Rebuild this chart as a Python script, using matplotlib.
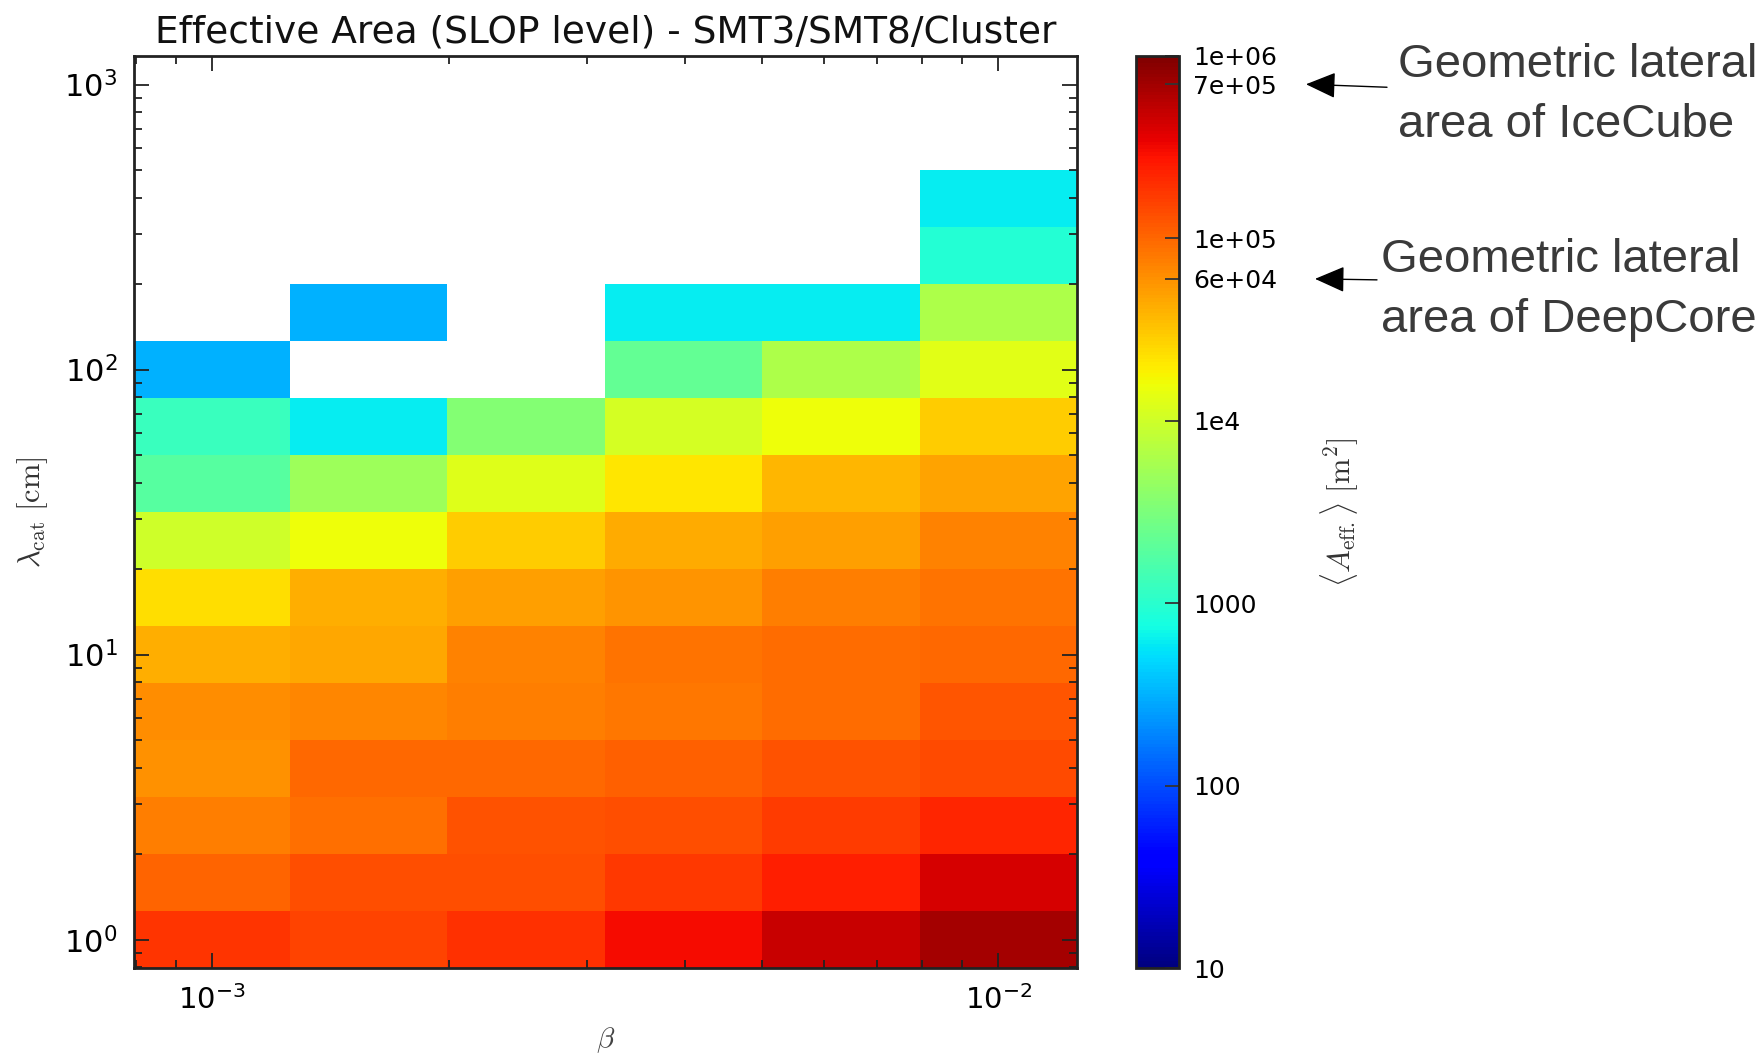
import numpy as np
import matplotlib
matplotlib.use("Agg")
import matplotlib.pyplot as plt
from matplotlib.colors import LogNorm

# ---------------- data ----------------
beta = [0.001, 0.00158, 0.00251, 0.00398, 0.00631, 0.01]
lam = [1, 1.58, 2.51, 3.98, 6.31, 10, 15.8, 25.1, 39.8, 63.1,
       100, 158, 251, 398, 631, 1000]
nan = np.nan
# rows: lambda (bottom -> top), columns: beta (left -> right)
aeff_rows = [
    [183000, 158000, 197000, 305000, 468000, 668000],
    [103000, 133000, 137000, 175000, 245000, 422000],
    [76700, 90000, 127000, 133000, 166000, 224000],
    [61000, 98000, 98000, 108000, 127000, 144000],
    [64000, 68000, 74000, 84000, 95000, 122000],
    [42700, 45700, 71000, 88000, 95000, 98000],
    [23200, 41700, 50700, 58000, 76700, 88000],
    [9800, 15700, 29500, 43500, 50700, 71000],
    [1880, 5000, 12600, 21600, 37700, 48000],
    [1230, 600, 3500, 11000, 15700, 29500],
    [310, nan, nan, 2290, 6300, 13200],
    [nan, 310, nan, 600, 600, 6300],
    [nan, nan, nan, nan, nan, 920],
    [nan, nan, nan, nan, nan, 600],
    [nan, nan, nan, nan, nan, nan],
    [nan, nan, nan, nan, nan, nan],
]
xtick_vals = [1e-3, 1e-2]
xtick_labels = ["$10^{-3}$", "$10^{-2}$"]
ytick_vals = [1, 10, 100, 1000]
ytick_labels = ["$10^{0}$", "$10^{1}$", "$10^{2}$", "$10^{3}$"]
cb_ticks = [10, 100, 1000, 1e4, 6e4, 1e5, 7e5, 1e6]
cb_labels = ["10", "100", "1000", "1e4", "6e+04", "1e+05", "7e+05", "1e+06"]
title = "Effective Area (SLOP level) - SMT3/SMT8/Cluster"
notes = [("Geometric lateral\narea of IceCube", 7e5),
         ("Geometric lateral\narea of DeepCore", 6e4)]

plt.rcParams["font.family"] = ["DejaVu Sans"]


def log_edges(c):
    lc = np.log10(np.asarray(c, dtype=float))
    mid = (lc[:-1] + lc[1:]) / 2
    first = lc[0] - (mid[0] - lc[0])
    last = lc[-1] + (lc[-1] - mid[-1])
    return 10 ** np.concatenate([[first], mid, [last]])


W, H = 1765, 1060
fig = plt.figure(figsize=(W / 100, H / 100), dpi=100)


def fx(px):
    return px / W


def fy(py):
    return 1 - py / H


ax_l, ax_r, ax_t, ax_b = 134, 1077, 56, 968
ax = fig.add_axes([fx(ax_l), fy(ax_b), fx(ax_r - ax_l), (ax_b - ax_t) / H])
cax = fig.add_axes([fx(1136), fy(ax_b), fx(1179 - 1136), (ax_b - ax_t) / H])

xe = log_edges(beta)
ye = log_edges(lam)
Z = np.ma.masked_invalid(np.array(aeff_rows, dtype=float))
norm = LogNorm(vmin=10, vmax=1e6)
mesh = ax.pcolormesh(xe, ye, Z, cmap="jet", norm=norm, shading="flat",
                     antialiased=False, edgecolors="none")
ax.set_xscale("log")
ax.set_yscale("log")
ax.set_xlim(xe[0], xe[-1])
ax.set_ylim(ye[0], ye[-1])

ax.set_xticks(xtick_vals)
ax.set_xticklabels(xtick_labels, fontsize=21)
ax.set_yticks(ytick_vals)
ax.set_yticklabels(ytick_labels, fontsize=22)
ax.tick_params(which="both", direction="in", top=True, right=True,
               color="#222222", width=1.3)
ax.tick_params(which="major", length=11)
ax.tick_params(which="minor", length=6)
ax.tick_params(axis="x", which="major", pad=12)
ax.tick_params(axis="y", which="major", pad=12)
for s in ax.spines.values():
    s.set_linewidth(2)
    s.set_color("#222222")

ax.set_title(title, fontsize=27, pad=10, color="#111111")

ax.set_xlabel(r"$\beta$", math_fontfamily="cm", fontsize=21, color="#444444")
ax.xaxis.set_label_coords(0.5, -0.063)
ax.set_ylabel(r"$\lambda_{\rm cat}\ [{\rm cm}]$", math_fontfamily="cm",
              fontsize=22, color="#333333")
ax.yaxis.set_label_coords(-0.089, 0.5)

cb = fig.colorbar(mesh, cax=cax, ticks=cb_ticks)
cb.ax.minorticks_off()
cb.ax.set_yticks(cb_ticks)
cb.ax.set_yticklabels(cb_labels, fontsize=18)
cb.ax.tick_params(direction="in", length=10, width=1.3, color="#333333", pad=10)
cb.outline.set_linewidth(2)
cb.outline.set_edgecolor("#222222")
cb.set_label(r"$\langle A_{\rm eff.}\rangle\ [{\rm m}^2]$", math_fontfamily="cm",
             fontsize=22, color="#333333")
cb.ax.yaxis.set_label_coords((1319 - 1136) / 43, 0.5)

# annotations
note_pos = [((1306 - 1136) / 43, 81, -3, 1398, 95),
            ((1315 - 1136) / 43, 62, -1, 1381, 290)]
for (txt, val), (xa, dx, dy, tx, ty) in zip(notes, note_pos):
    cb.ax.annotate("", xy=(xa, val), xycoords=("axes fraction", "data"),
                   xytext=(dx, dy), textcoords="offset pixels",
                   arrowprops=dict(arrowstyle="-|>,head_length=0.55,head_width=0.24",
                                   mutation_scale=34, lw=1.0, color="black",
                                   shrinkA=0, shrinkB=0),
                   annotation_clip=False)
    fig.text(fx(tx), fy(ty), txt, ha="left", va="center", fontsize=34,
             family=["Liberation Sans", "DejaVu Sans"], color="#3a3a3a",
             linespacing=1.47)

fig.savefig("out.png", dpi=100)
